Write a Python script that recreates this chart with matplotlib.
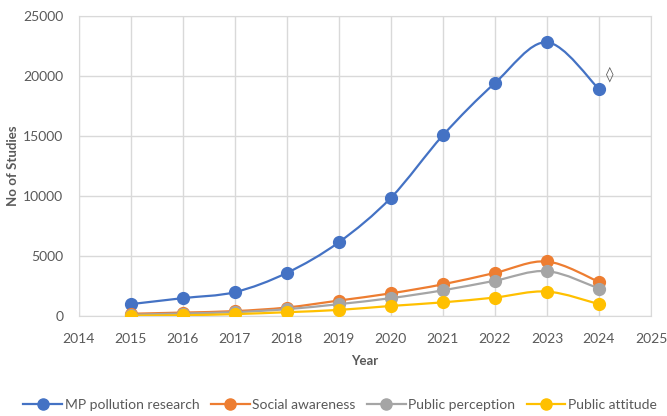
import numpy as np
import matplotlib
matplotlib.use("Agg")
import matplotlib.pyplot as plt
from matplotlib.path import Path
from matplotlib.patches import PathPatch
from matplotlib.lines import Line2D

years = [2015, 2016, 2017, 2018, 2019, 2020, 2021, 2022, 2023, 2024]
mp_research = [1000, 1500, 2000, 3600, 6150, 9850, 15050, 19400, 22800, 18900]
social_awareness = [200, 300, 420, 720, 1300, 1900, 2650, 3600, 4550, 2850]
public_perception = [120, 220, 330, 580, 1000, 1500, 2150, 2950, 3750, 2300]
public_attitude = [40, 80, 170, 330, 520, 850, 1150, 1550, 2050, 1000]

series = [
    ("MP pollution research", mp_research, "#4472C4"),
    ("Social awareness", social_awareness, "#ED7D31"),
    ("Public perception", public_perception, "#A5A5A5"),
    ("Public attitude", public_attitude, "#FFC000"),
]

text_col = "#595959"
plt.rcParams["font.family"] = ["Lato", "DejaVu Sans"]


def smooth_path(xs, ys):
    # Catmull-Rom through the points, drawn as cubic Bezier segments
    pts = np.column_stack([xs, ys]).astype(float)
    verts = [pts[0]]
    codes = [Path.MOVETO]
    n = len(pts)
    for i in range(n - 1):
        p0 = pts[max(i - 1, 0)]
        p1 = pts[i]
        p2 = pts[i + 1]
        p3 = pts[min(i + 2, n - 1)]
        c1 = p1 + (p2 - p0) / 6.0
        c2 = p2 - (p3 - p1) / 6.0
        verts += [c1, c2, p2]
        codes += [Path.CURVE4] * 3
    return Path(verts, codes)


fig = plt.figure(figsize=(6.67, 4.16), dpi=100)
ax = fig.add_axes([0.118, 0.240, 0.858, 0.722])

handles = []
for name, vals, col in series:
    ax.add_patch(PathPatch(smooth_path(years, vals), facecolor="none",
                           edgecolor=col, lw=1.6, zorder=3))
    ax.plot(years, vals, ls="none", marker="o", ms=8.5, color=col,
            markeredgecolor=col, zorder=4)
    handles.append(Line2D([], [], color=col, lw=1.6, marker="o", ms=8))

ax.text(2024.2, 20100, "\u25ca", fontsize=11, color=text_col,
        ha="center", va="center", family="DejaVu Sans")

ax.set_xlim(2014, 2025)
ax.set_ylim(0, 25000)
ax.set_xticks(range(2014, 2026))
ax.set_yticks(range(0, 25001, 5000))
ax.grid(True, color="#D9D9D9", lw=1.0)
ax.set_axisbelow(True)
for s in ax.spines.values():
    s.set_color("#D9D9D9")
ax.tick_params(length=0, labelsize=10, colors=text_col)
ax.tick_params(axis="x", pad=12)
ax.tick_params(axis="y", pad=11)

ax.set_xlabel("Year", fontsize=9.5, fontweight="bold", color=text_col, labelpad=7)
ax.set_ylabel("No of Studies", fontsize=9.5, fontweight="bold", color=text_col, labelpad=3)

fig.legend(handles, [s[0] for s in series], loc="center", bbox_to_anchor=(0.51, 0.027),
           ncol=4, frameon=False, fontsize=10, labelcolor=text_col,
           handlelength=2.8, columnspacing=0.8, handletextpad=0.2)

fig.savefig("out.png", dpi=100)
